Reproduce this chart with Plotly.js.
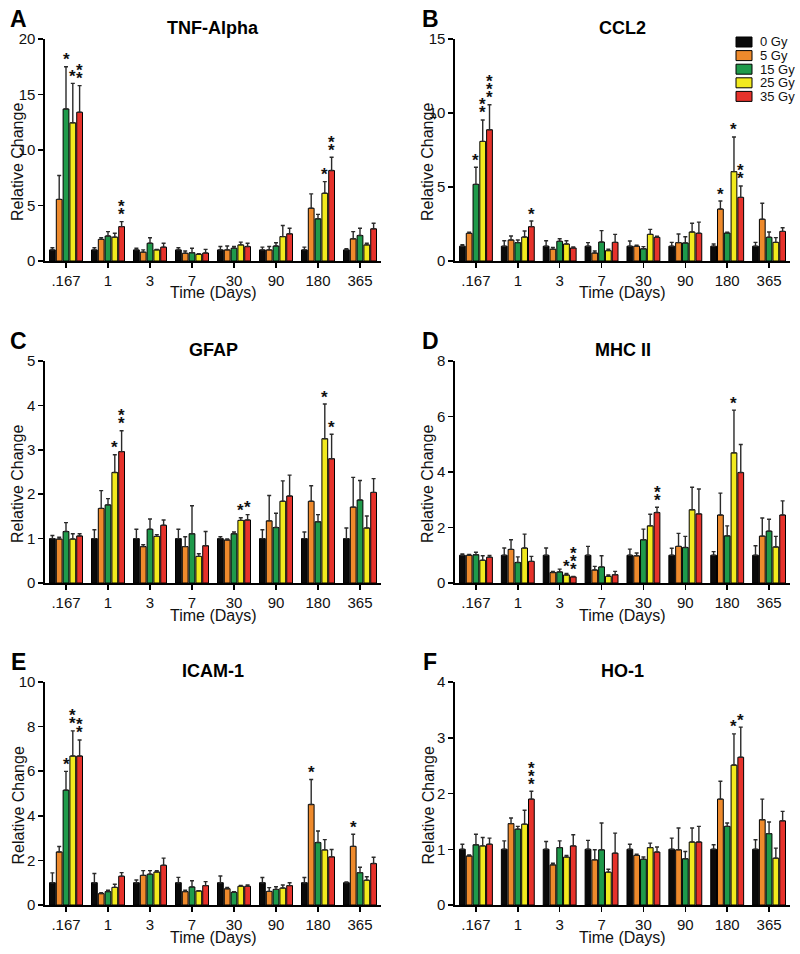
<!DOCTYPE html>
<html>
<head>
<meta charset="UTF-8">
<script src="https://cdn.plot.ly/plotly-3.0.1.min.js"></script>
<style>
  body { margin: 0; background: #fff; }
  #chart { width: 800px; height: 954px; }
</style>
</head>
<body>
<div id="chart"></div>
<script>
// categories and series
const days = ['.167', '1', '3', '7', '30', '90', '180', '365'];
const doses = ['0 Gy', '5 Gy', '15 Gy', '25 Gy', '35 Gy'];
const doseColors = ['#0a0a0a', '#ee8a2c', '#1f9a4b', '#f2ea1e', '#e6322b'];

// rows = dose (0,5,15,25,35 Gy), columns = day
const tnfMean = [
  [1.0, 1.0, 1.0, 1.0, 1.0, 1.0, 1.0, 1.0],
  [5.55, 1.95, 0.8, 0.7, 1.0, 1.0, 4.75, 2.0],
  [13.7, 2.25, 1.6, 0.75, 1.15, 1.35, 3.8, 2.3],
  [12.45, 2.15, 1.0, 0.6, 1.45, 2.2, 6.1, 1.45],
  [13.4, 3.1, 1.25, 0.72, 1.3, 2.45, 8.15, 2.9]
];
const tnfErr = [
  [0.2, 0.2, 0.15, 0.2, 0.3, 0.25, 0.25, 0.1],
  [2.15, 0.15, 0.2, 0.2, 0.35, 0.3, 1.3, 0.65],
  [3.8, 0.4, 0.5, 0.4, 0.15, 0.3, 0.4, 0.65],
  [3.55, 0.35, 0.05, 0.05, 0.25, 1.0, 1.05, 0.15],
  [2.4, 0.45, 0.35, 0.33, 0.3, 0.5, 1.2, 0.5]
];
const tnfStars = [[0, 2, 1], [0, 3, 1], [0, 4, 2], [1, 4, 2], [6, 3, 1], [6, 4, 2]];

const ccl2Mean = [
  [1.0, 1.0, 1.0, 1.0, 1.0, 1.0, 1.0, 1.0],
  [1.87, 1.42, 0.8, 0.54, 1.0, 1.24, 3.51, 2.82],
  [5.18, 1.24, 1.33, 1.28, 0.83, 1.22, 1.89, 1.6],
  [8.08, 1.62, 1.15, 0.7, 1.8, 1.96, 6.04, 1.26],
  [8.87, 2.32, 0.88, 1.26, 1.6, 1.87, 4.3, 2.0]
];
const ccl2Err = [
  [0.1, 0.37, 0.37, 0.24, 0.35, 0.26, 0.15, 0.26],
  [0.07, 0.27, 0.12, 0.14, 0.06, 0.58, 0.54, 1.08],
  [1.15, 0.18, 0.17, 0.77, 0.14, 0.42, 0.05, 0.36],
  [1.45, 0.41, 0.22, 0.09, 0.34, 0.59, 2.34, 0.32],
  [1.69, 0.38, 0.07, 0.54, 0.07, 0.76, 0.77, 0.25]
];
const ccl2Stars = [[0, 2, 1], [0, 3, 2], [0, 4, 3], [1, 4, 1], [6, 1, 1], [6, 3, 1], [6, 4, 2]];

const gfapMean = [
  [1.0, 1.0, 1.0, 1.0, 1.0, 1.0, 1.0, 1.0],
  [0.99, 1.68, 0.82, 0.82, 0.97, 1.4, 1.84, 1.71],
  [1.16, 1.76, 1.21, 1.11, 1.11, 1.25, 1.38, 1.87],
  [0.99, 2.49, 1.05, 0.6, 1.41, 1.84, 3.25, 1.24],
  [1.06, 2.96, 1.3, 0.84, 1.42, 1.96, 2.8, 2.04]
];
const gfapErr = [
  [0.07, 0.2, 0.21, 0.21, 0.04, 0.2, 0.15, 0.24],
  [0.04, 0.4, 0.04, 0.22, 0.02, 0.57, 0.35, 0.67],
  [0.2, 0.14, 0.23, 0.63, 0.04, 0.32, 0.16, 0.44],
  [0.12, 0.4, 0.04, 0.06, 0.06, 0.46, 0.78, 0.27],
  [0.05, 0.47, 0.12, 0.32, 0.12, 0.47, 0.55, 0.31]
];
const gfapStars = [[1, 3, 1], [1, 4, 2], [4, 3, 1], [4, 4, 1], [6, 3, 1], [6, 4, 1]];

const mhcMean = [
  [1.0, 1.0, 1.0, 1.0, 1.0, 1.0, 1.0, 1.0],
  [1.0, 1.21, 0.38, 0.47, 0.98, 1.32, 2.45, 1.69],
  [1.02, 0.74, 0.4, 0.58, 1.56, 1.28, 1.7, 1.87],
  [0.82, 1.26, 0.29, 0.24, 2.06, 2.64, 4.69, 1.3],
  [0.93, 0.78, 0.22, 0.3, 2.54, 2.49, 3.98, 2.45]
];
const mhcErr = [
  [0.05, 0.26, 0.26, 0.32, 0.22, 0.25, 0.13, 0.34],
  [0.03, 0.35, 0.04, 0.13, 0.1, 0.47, 0.79, 0.65],
  [0.09, 0.2, 0.1, 0.4, 0.38, 0.4, 0.36, 0.43],
  [0.16, 0.5, 0.05, 0.05, 0.42, 0.81, 1.54, 0.38],
  [0.06, 0.18, 0.02, 0.12, 0.19, 0.9, 1.01, 0.51]
];
const mhcStars = [[2, 3, 1], [2, 4, 3], [4, 4, 2], [6, 3, 1]];

const icamMean = [
  [1.0, 1.0, 1.0, 1.0, 1.0, 1.0, 1.0, 1.0],
  [2.38, 0.51, 1.33, 0.6, 0.73, 0.61, 4.51, 2.63],
  [5.15, 0.6, 1.38, 0.81, 0.57, 0.7, 2.8, 1.45],
  [6.68, 0.79, 1.48, 0.63, 0.84, 0.76, 2.47, 1.11],
  [6.68, 1.29, 1.78, 0.87, 0.84, 0.87, 2.16, 1.86]
];
const icamErr = [
  [0.44, 0.41, 0.12, 0.24, 0.3, 0.23, 0.23, 0.03],
  [0.24, 0.04, 0.21, 0.06, 0.06, 0.17, 1.12, 0.54],
  [0.84, 0.06, 0.16, 0.28, 0.03, 0.12, 0.52, 0.24],
  [1.13, 0.14, 0.06, 0.01, 0.04, 0.14, 0.46, 0.16],
  [0.72, 0.16, 0.32, 0.18, 0.06, 0.13, 0.33, 0.28]
];
const icamStars = [[0, 2, 1], [0, 3, 2], [0, 4, 2], [6, 1, 1], [7, 1, 1]];

const hoMean = [
  [1.0, 1.0, 1.0, 1.0, 1.0, 1.0, 1.0, 1.0],
  [0.88, 1.46, 0.72, 0.81, 0.89, 0.99, 1.9, 1.53],
  [1.08, 1.36, 1.03, 0.99, 0.82, 0.83, 1.41, 1.28],
  [1.06, 1.45, 0.86, 0.59, 1.03, 1.13, 2.51, 0.84],
  [1.09, 1.9, 1.06, 0.93, 0.95, 1.13, 2.65, 1.51]
];
const hoErr = [
  [0.09, 0.15, 0.14, 0.16, 0.09, 0.2, 0.08, 0.17],
  [0.02, 0.1, 0.03, 0.18, 0.02, 0.39, 0.32, 0.37],
  [0.19, 0.05, 0.12, 0.48, 0.04, 0.13, 0.06, 0.21],
  [0.15, 0.25, 0.03, 0.05, 0.08, 0.25, 0.56, 0.18],
  [0.11, 0.14, 0.2, 0.36, 0.09, 0.28, 0.54, 0.17]
];
const hoStars = [[1, 4, 3], [6, 3, 1], [6, 4, 1]];

const panels = [
  { letter: 'A', title: 'TNF-Alpha', mean: tnfMean, err: tnfErr, stars: tnfStars, ymax: 20, dtick: 5 },
  { letter: 'B', title: 'CCL2', mean: ccl2Mean, err: ccl2Err, stars: ccl2Stars, ymax: 15, dtick: 5 },
  { letter: 'C', title: 'GFAP', mean: gfapMean, err: gfapErr, stars: gfapStars, ymax: 5, dtick: 1 },
  { letter: 'D', title: 'MHC II', mean: mhcMean, err: mhcErr, stars: mhcStars, ymax: 8, dtick: 2 },
  { letter: 'E', title: 'ICAM-1', mean: icamMean, err: icamErr, stars: icamStars, ymax: 10, dtick: 2 },
  { letter: 'F', title: 'HO-1', mean: hoMean, err: hoErr, stars: hoStars, ymax: 4, dtick: 1 }
];

const W = 800, H = 954;
const FONT = 'Arial, "Liberation Sans", sans-serif';
const colPx = [[45, 381], [455, 790]];
const rowPx = [[39, 261], [361, 583], [682, 905]];
const bargap = 0.19;
const slot = (1 - bargap) / doses.length;
const xIdx = days.map((d, i) => i);

const px = v => v / W;
const py = v => 1 - v / H;

const data = [];
const annotations = [];
const shapes = [];
const layout = {
  width: W, height: H,
  margin: { l: 0, r: 0, t: 0, b: 0 },
  paper_bgcolor: '#fff', plot_bgcolor: '#fff',
  barmode: 'group', bargap: bargap, bargroupgap: 0.15,
  showlegend: false,
  font: { family: FONT, color: '#111' }
};

panels.forEach((p, k) => {
  const col = k % 2, row = Math.floor(k / 2);
  const xa = 'x' + (k + 1), ya = 'y' + (k + 1);
  const [x0, x1] = colPx[col];
  const [y0, y1] = rowPx[row];

  layout['xaxis' + (k + 1)] = {
    domain: [px(x0), px(x1)], anchor: ya,
    range: [-0.5, 7.5], tickvals: xIdx, ticktext: days,
    ticks: 'outside', ticklen: 5, tickwidth: 1.5, tickcolor: '#000',
    showline: true, linewidth: 1.6, linecolor: '#000',
    showgrid: false, zeroline: false, fixedrange: true,
    tickfont: { size: 15, color: '#111', family: FONT }
  };
  layout['yaxis' + (k + 1)] = {
    domain: [py(y1), py(y0)], anchor: xa,
    range: [0, p.ymax], dtick: p.dtick, tick0: 0,
    ticks: 'outside', ticklen: 5, tickwidth: 1.5, tickcolor: '#000',
    showline: true, linewidth: 1.6, linecolor: '#000',
    showgrid: false, zeroline: false, fixedrange: true,
    tickfont: { size: 15, color: '#111', family: FONT }
  };

  doses.forEach((dose, d) => {
    data.push({
      type: 'bar', name: dose, x: xIdx, y: p.mean[d],
      xaxis: xa, yaxis: ya,
      marker: { color: doseColors[d], line: { color: '#000', width: 1 } },
      error_y: {
        type: 'data', array: p.err[d], symmetric: false,
        arrayminus: p.err[d].map(() => 0),
        color: '#2a2a2a', thickness: 1.4, width: 2
      },
      hoverinfo: 'skip'
    });
  });

  // significance stars, stacked vertically above the error bar
  p.stars.forEach(([di, si, n]) => {
    for (let s = 0; s < n; s++) {
      annotations.push({
        xref: xa, yref: ya,
        x: di + (si - 2) * slot, y: p.mean[si][di] + p.err[si][di],
        text: '<b>*</b>', showarrow: false, yanchor: 'middle',
        yshift: 7 + s * 8, borderpad: 0,
        font: { size: 17, family: FONT, color: '#111' }
      });
    }
  });

  const cx = (x0 + x1) / 2;
  annotations.push({
    xref: 'paper', yref: 'paper', x: px(col ? 430 : 18), y: py(y0 - 20),
    text: '<b>' + p.letter + '</b>', showarrow: false,
    xanchor: 'center', yanchor: 'middle',
    font: { size: 23, family: FONT, color: '#000' }
  });
  annotations.push({
    xref: 'paper', yref: 'paper', x: px(cx), y: py(y0 - 11),
    text: '<b>' + p.title + '</b>', showarrow: false,
    xanchor: 'center', yanchor: 'middle',
    font: { size: 18, family: FONT, color: '#000' }
  });
  annotations.push({
    xref: 'paper', yref: 'paper', x: px(cx), y: py(y1 + 32),
    text: 'Time (Days)', showarrow: false,
    xanchor: 'center', yanchor: 'middle',
    font: { size: 16, family: FONT, color: '#111' }
  });
  annotations.push({
    xref: 'paper', yref: 'paper', x: px(x0 - 27), y: py((y0 + y1) / 2 + 12),
    text: 'Relative Change', showarrow: false, textangle: -90,
    xanchor: 'center', yanchor: 'middle',
    font: { size: 16, family: FONT, color: '#111' }
  });
});

// legend (panel B)
doses.forEach((dose, d) => {
  const cy = 42 + d * 13.6;
  shapes.push({
    type: 'rect', xref: 'paper', yref: 'paper',
    x0: px(736), x1: px(752), y0: py(cy + 5), y1: py(cy - 5),
    fillcolor: doseColors[d], line: { color: '#000', width: 1 }
  });
  annotations.push({
    xref: 'paper', yref: 'paper', x: px(758), y: py(cy),
    text: dose, showarrow: false, xanchor: 'left', yanchor: 'middle',
    font: { size: 13, family: FONT, color: '#111' }
  });
});

layout.annotations = annotations;
layout.shapes = shapes;

Plotly.newPlot('chart', data, layout, { displayModeBar: false, staticPlot: true });
</script>
</body>
</html>
